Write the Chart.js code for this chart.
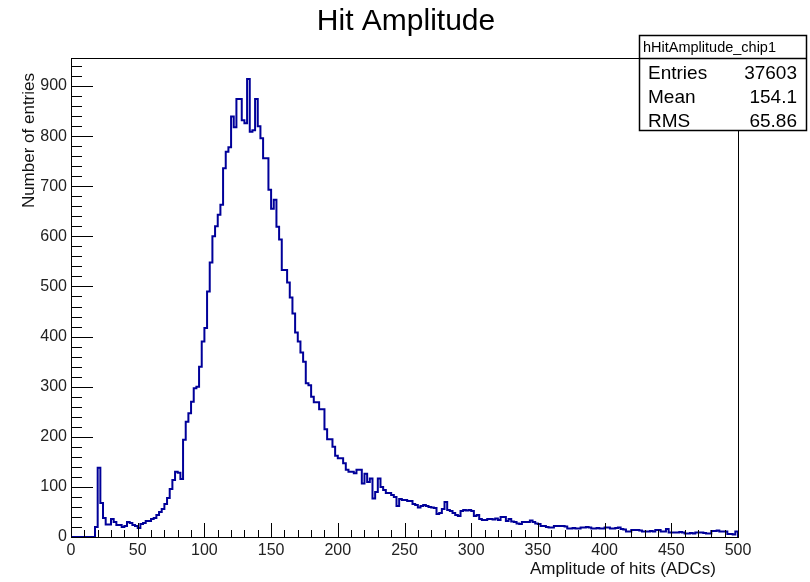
<!DOCTYPE html>
<html>
<head>
<meta charset="utf-8">
<script src="https://cdn.jsdelivr.net/npm/chart.js@4.4.1/dist/chart.umd.min.js"></script>
<style>
  html, body { margin: 0; padding: 0; background: #ffffff; }
  #wrap { width: 810px; height: 582px; }
</style>
</head>
<body>
<div id="wrap"><canvas id="hist" width="810" height="582"></canvas></div>
<script>
// Histogram content: 250 bins of width 2 ADC from 0 to 500
const binStart = 0;
const binWidth = 2;
const counts = [
  0, 0, 0, 0, 0, 0, 0, 0, 0, 20,
  138, 68, 38, 25, 25, 36, 30, 24, 24, 20,
  22, 30, 28, 24, 22, 18, 26, 28, 32, 32,
  36, 38, 44, 50, 56, 66, 78, 96, 114, 130,
  128, 116, 194, 230, 247, 270, 297, 300, 340, 390,
  417, 490, 548, 600, 620, 643, 663, 736, 769, 778,
  839, 818, 874, 874, 832, 826, 914, 809, 812, 874,
  820, 796, 756, 756, 693, 655, 673, 619, 594, 533,
  533, 508, 478, 446, 408, 390, 368, 350, 307, 303,
  280, 269, 269, 255, 255, 215, 195, 195, 180, 162,
  157, 157, 147, 134, 130, 130, 127, 134, 134, 107,
  126, 110, 117, 77, 90, 117, 100, 94, 88, 88,
  84, 80, 62, 76, 74, 74, 72, 72, 66, 64,
  59, 62, 64, 62, 60, 59, 58, 46, 48, 56,
  70, 54, 52, 48, 44, 42, 52, 54, 53, 54,
  52, 42, 44, 36, 34, 34, 36, 36, 35, 37,
  34, 40, 40, 32, 36, 31, 30, 27, 26, 30,
  30, 30, 33, 30, 27, 26, 22, 22, 20, 19,
  19, 22, 22, 22, 22, 21, 17, 17, 18, 17,
  17, 19, 19, 20, 19, 17, 17, 18, 17, 17,
  19, 19, 17, 17, 18, 19, 16, 15, 11, 11,
  14, 14, 14, 13, 11, 11, 11, 12, 11, 14,
  14, 11, 11, 16, 9, 9, 9, 9, 10, 9,
  7, 7, 8, 7, 9, 9, 9, 8, 7, 7,
  12, 12, 13, 11, 11, 11, 6, 6, 5, 11
];

const histName = "hHitAmplitude_chip1";
const statLabels = ["Entries", "Mean", "RMS"];
const statValues = ["37603", "154.1", "65.86"];

const xMin = 0, xMax = 500;
const yMin = 0, yMax = 956;

// left bin edges plus the closing edge at the end of the range
const points = counts.map((c, i) => ({ x: binStart + i * binWidth, y: c }));
const xEnd = binStart + counts.length * binWidth;
points.push({ x: xEnd, y: counts[counts.length - 1] });
points.push({ x: xEnd, y: 0 });

const FONT = "'Liberation Sans', Arial, Helvetica, sans-serif";

// frame, ROOT style inward ticks, title, axis titles and stats box
const rootDecor = {
  id: "rootDecor",
  afterDraw(chart) {
    const c = chart.ctx;
    const a = chart.chartArea;
    const xs = chart.scales.x;
    const ys = chart.scales.y;
    c.save();

    c.strokeStyle = "#000";
    c.lineWidth = 1;
    c.strokeRect(a.left + 0.5, a.top + 0.5, a.right - a.left, a.bottom - a.top);

    // x ticks: major every 50, minor every 10
    c.beginPath();
    for (let v = xMin; v <= xMax; v += 10) {
      const px = Math.round(xs.getPixelForValue(v)) + 0.5;
      const len = v % 50 === 0 ? 14 : 7;
      c.moveTo(px, a.bottom);
      c.lineTo(px, a.bottom - len);
    }
    // y ticks: major every 100, minor every 20
    for (let v = yMin; v <= yMax; v += 20) {
      const py = Math.round(ys.getPixelForValue(v)) + 0.5;
      const len = v % 100 === 0 ? 22 : 11;
      c.moveTo(a.left, py);
      c.lineTo(a.left + len, py);
    }
    c.stroke();

    // title
    c.fillStyle = "#000";
    c.font = "30px " + FONT;
    c.textAlign = "center";
    c.textBaseline = "alphabetic";
    c.fillText("Hit Amplitude", 406, 30);

    // axis titles
    c.fillStyle = "#111";
    c.font = "17px " + FONT;
    c.textAlign = "right";
    c.fillText("Amplitude of hits (ADCs)", 716, 574);
    c.save();
    c.translate(34, 73);
    c.rotate(-Math.PI / 2);
    c.textAlign = "right";
    c.fillText("Number of entries", 0, 0);
    c.restore();

    // stats box
    const bx = 639, by = 35, bw = 167, bh = 95, hh = 23;
    c.fillStyle = "#fff";
    c.fillRect(bx, by, bw, bh);
    c.lineWidth = 1.5;
    c.strokeStyle = "#000";
    c.strokeRect(bx + 0.5, by + 0.5, bw, bh);
    c.beginPath();
    c.moveTo(bx, by + hh + 0.5);
    c.lineTo(bx + bw, by + hh + 0.5);
    c.stroke();

    c.fillStyle = "#000";
    c.font = "14.5px " + FONT;
    c.textAlign = "left";
    c.textBaseline = "middle";
    c.fillText(histName, bx + 4, by + hh / 2 + 1);

    c.font = "19px " + FONT;
    statLabels.forEach((lab, i) => {
      const ty = by + hh + 16 + i * 24;
      c.textAlign = "left";
      c.fillText(lab, bx + 9, ty);
      c.textAlign = "right";
      c.fillText(statValues[i], bx + bw - 9, ty);
    });

    c.restore();
  }
};

new Chart(document.getElementById("hist"), {
  type: "line",
  data: {
    datasets: [{
      data: points,
      borderColor: "#000099",
      borderWidth: 2,
      stepped: true,
      pointRadius: 0,
      fill: false
    }]
  },
  options: {
    responsive: false,
    animation: false,
    layout: { padding: { left: 0, top: 58, right: 72, bottom: 0 } },
    plugins: {
      legend: { display: false },
      tooltip: { enabled: false },
      title: { display: false }
    },
    scales: {
      x: {
        type: "linear",
        min: xMin,
        max: xMax,
        grid: { display: false, drawTicks: false },
        border: { display: false },
        afterFit: s => { s.height = 45; },
        ticks: {
          stepSize: 50,
          padding: 4,
          color: "#222",
          maxRotation: 0,
          autoSkip: false,
          font: { family: FONT, size: 16 }
        }
      },
      y: {
        type: "linear",
        min: yMin,
        max: yMax,
        grid: { display: false, drawTicks: false },
        border: { display: false },
        afterFit: s => { s.width = 71; },
        afterBuildTicks: s => { s.ticks = s.ticks.filter(t => t.value % 100 === 0); },
        ticks: {
          stepSize: 100,
          padding: 4,
          color: "#222",
          font: { family: FONT, size: 16 }
        }
      }
    }
  },
  plugins: [rootDecor]
});
</script>
</body>
</html>
